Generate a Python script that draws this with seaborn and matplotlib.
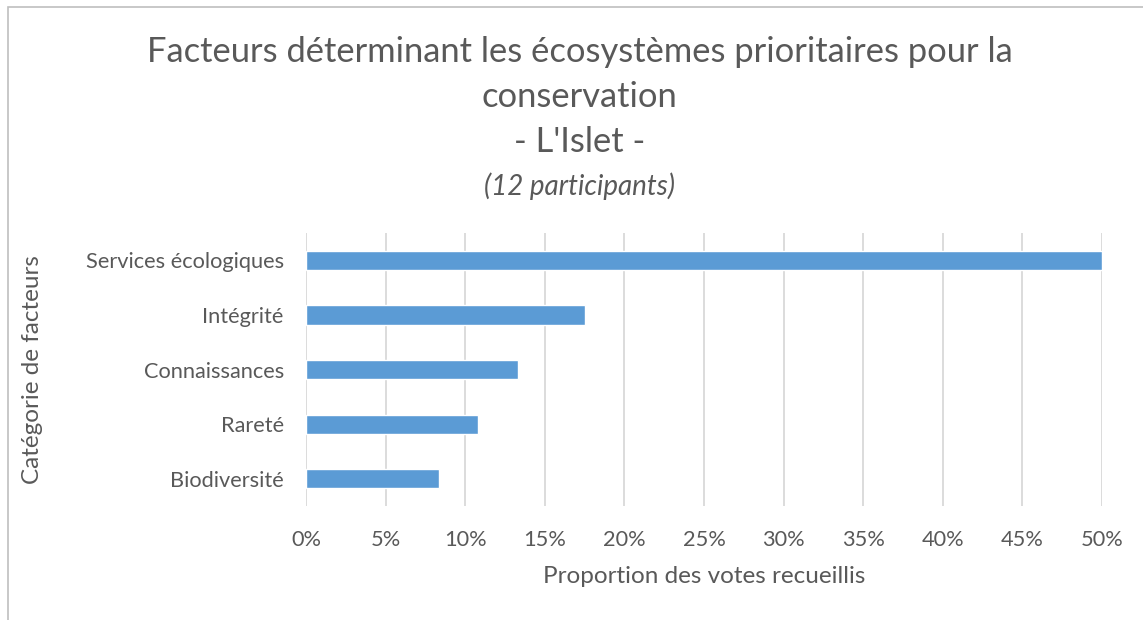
import pandas as pd
import matplotlib.pyplot as plt
import matplotlib.ticker as mticker
from matplotlib.patches import Rectangle
import seaborn as sns

categories = ['Services écologiques', 'Intégrité', 'Connaissances', 'Rareté', 'Biodiversité']
votes = [60, 21, 16, 13, 10]  # 12 participants, 120 votes
proportions = [v / sum(votes) for v in votes]

title_lines = ['Facteurs déterminant les écosystèmes prioritaires pour la', 'conservation', "- L'Islet -"]
subtitle = '(12 participants)'
xlabel = 'Proportion des votes recueillis'
ylabel = 'Catégorie de facteurs'

df = pd.DataFrame({'cat': categories, 'prop': proportions})

sns.set_style('white')
plt.rcParams['font.family'] = ['Lato', 'DejaVu Sans']
grey = '#595959'

fig = plt.figure(figsize=(11.43, 6.2), dpi=100)
ax = fig.add_axes([0.2677, 0.184, 0.6964, 0.44])

sns.barplot(data=df, x='prop', y='cat', orient='h', color='#5B9BD5',
            width=0.35, saturation=1, ax=ax)

ax.set_xlim(0, 0.5)
ax.set_xticks([i * 0.05 for i in range(11)])
ax.xaxis.set_major_formatter(mticker.PercentFormatter(1.0, decimals=0))
ax.grid(axis='x', color='#D9D9D9', linewidth=1.3)
ax.set_axisbelow(True)
for s in ax.spines.values():
    s.set_visible(False)
ax.tick_params(axis='both', length=0, colors=grey, labelsize=15.7)
ax.tick_params(axis='x', pad=17)
ax.tick_params(axis='y', pad=16)
ax.set_xlabel(xlabel, fontsize=17.5, color=grey, va='center')
ax.set_ylabel(ylabel, fontsize=17.5, color=grey, va='center')
ax.xaxis.set_label_coords(0.5, -0.26)
ax.yaxis.set_label_coords(-0.343, 0.5)

# title block, centred over the whole chart area
cx = 0.507
ys = [0.916, 0.843, 0.771]
for line, y in zip(title_lines, ys):
    fig.text(cx, y, line, ha='center', va='center', fontsize=24.8, color=grey)
fig.text(cx, 0.70, subtitle, ha='center', va='center', fontsize=20,
         style='italic', color=grey)

fig.patches.append(Rectangle((8 / 1143, -0.1), 1.2, 1 - 7 / 620 + 0.1,
                             transform=fig.transFigure, fill=False,
                             edgecolor='#BFBFBF', linewidth=1.2))

fig.savefig('out.png', dpi=100)
